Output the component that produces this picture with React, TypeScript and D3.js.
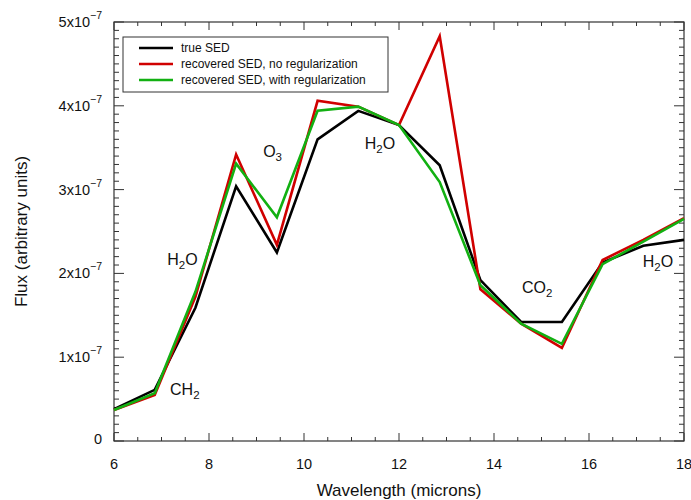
import React from "react";
import * as d3 from "d3";

const wavelengths = [6, 6.857, 7.714, 8.571, 9.429, 10.286, 11.143, 12, 12.857, 13.714, 14.571, 15.429, 16.286, 17.143, 18];
const trueSED = [0.38, 0.61, 1.59, 3.04, 2.25, 3.6, 3.94, 3.77, 3.29, 1.92, 1.42, 1.42, 2.13, 2.33, 2.4];
const noReg = [0.37, 0.55, 1.72, 3.42, 2.34, 4.06, 3.99, 3.77, 4.83, 1.81, 1.4, 1.11, 2.16, 2.4, 2.66];
const withReg = [0.37, 0.57, 1.78, 3.31, 2.67, 3.94, 3.99, 3.77, 3.09, 1.86, 1.4, 1.16, 2.11, 2.38, 2.65];
const seriesNames = ["true SED", "recovered SED, no regularization", "recovered SED, with regularization"];
const seriesColors = ["#000000", "#d00000", "#12b012"];
const xTicks = [6, 8, 10, 12, 14, 16, 18];
const yTicks = [0, 1, 2, 3, 4, 5];
const annotations = [
  { x: 7.12, y: 2.1, main: "H", sub: "2", tail: "O" },
  { x: 9.14, y: 3.39, main: "O", sub: "3", tail: "" },
  { x: 11.28, y: 3.48, main: "H", sub: "2", tail: "O" },
  { x: 7.18, y: 0.55, main: "CH", sub: "2", tail: "" },
  { x: 14.59, y: 1.77, main: "CO", sub: "2", tail: "" },
  { x: 17.13, y: 2.08, main: "H", sub: "2", tail: "O" },
];

const W = 691, H = 500;
const m = { l: 114, r: 684, t: 22, b: 441 };
const font = "'Liberation Sans', Arial, Helvetica, sans-serif";

export default function App() {
  const x = d3.scaleLinear().domain([6, 18]).range([m.l, m.r]);
  const y = d3.scaleLinear().domain([0, 5]).range([m.b, m.t]);
  const line = d3.line<number>().x((_, i) => x(wavelengths[i])).y((d) => y(d));
  const series = [trueSED, noReg, withReg];
  const xMinor = d3.range(6, 18.001, 0.5);
  const yMinor = d3.range(0, 5.001, 0.1);
  const axisColor = "#333";
  return (
    <svg width={W} height={H} style={{ position: "absolute", left: 0, top: 0, background: "#fff" }} fontFamily={font}>
      {xMinor.map((v, i) => {
        const major = Math.abs(v - Math.round(v / 2) * 2) < 1e-6;
        const len = major ? 8 : 4;
        return (
          <g key={"xt" + i} stroke={axisColor} strokeWidth={1}>
            <line x1={x(v)} x2={x(v)} y1={m.b} y2={m.b - len} />
            <line x1={x(v)} x2={x(v)} y1={m.t} y2={m.t + len} />
          </g>
        );
      })}
      {yMinor.map((v, i) => {
        const major = Math.abs(v - Math.round(v)) < 1e-6;
        const len = major ? 10 : 5;
        return (
          <g key={"yt" + i} stroke={axisColor} strokeWidth={1}>
            <line x1={m.l} x2={m.l + len} y1={y(v)} y2={y(v)} />
            <line x1={m.r} x2={m.r - len} y1={y(v)} y2={y(v)} />
          </g>
        );
      })}
      <rect x={m.l} y={m.t} width={m.r - m.l} height={m.b - m.t} fill="none" stroke={axisColor} strokeWidth={1.2} />
      {series.map((s, i) => (
        <path key={"s" + i} d={line(s) || ""} fill="none" stroke={seriesColors[i]} strokeWidth={2.6} strokeLinejoin="miter" />
      ))}
      {xTicks.map((v) => (
        <text key={"xl" + v} x={x(v)} y={m.b + 28} fontSize={14.5} textAnchor="middle" fill="#111">
          {v}
        </text>
      ))}
      {yTicks.map((v) =>
        v === 0 ? (
          <text key={"yl" + v} x={102} y={y(v) + 3} fontSize={14.5} textAnchor="end" fill="#111">0</text>
        ) : (
          <text key={"yl" + v} x={102} y={y(v) + 5} fontSize={14.5} textAnchor="end" fill="#111">
            {v}x10
            <tspan dy={-8} fontSize={10.5}>−7</tspan>
          </text>
        )
      )}
      <text x={(m.l + m.r) / 2} y={496} fontSize={17} textAnchor="middle" fill="#111">Wavelength (microns)</text>
      <text transform={`translate(27, ${(m.t + m.b) / 2}) rotate(-90)`} fontSize={17} textAnchor="middle" fill="#111">
        Flux (arbitrary units)
      </text>
      {annotations.map((a, i) => (
        <text key={"an" + i} x={x(a.x)} y={y(a.y)} fontSize={16} fill="#111">
          {a.main}
          <tspan dy={4} fontSize={11.5}>{a.sub}</tspan>
          {a.tail ? <tspan dy={-4} fontSize={16}>{a.tail}</tspan> : null}
        </text>
      ))}
      <rect x={123} y={37} width={265} height={55} fill="#fff" stroke={axisColor} strokeWidth={1} />
      {seriesNames.map((n, i) => (
        <g key={"lg" + i}>
          <line x1={139} x2={173} y1={48 + i * 16} y2={48 + i * 16} stroke={seriesColors[i]} strokeWidth={2.6} />
          <text x={181} y={52 + i * 16} fontSize={12} fill="#111">{n}</text>
        </g>
      ))}
    </svg>
  );
}
